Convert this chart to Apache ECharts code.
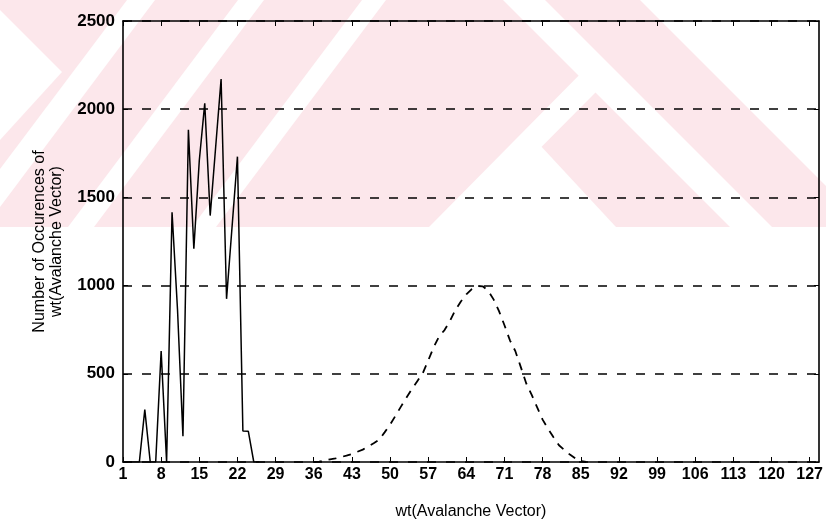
<!DOCTYPE html>
<html>
<head>
<meta charset="utf-8">
<script src="https://cdn.jsdelivr.net/npm/echarts@6/dist/echarts.min.js"></script>
<style>
  html, body { margin: 0; padding: 0; background: #ffffff; }
  #chart { width: 826px; height: 528px; }
</style>
</head>
<body>
<div id="chart"></div>
<script>
// Tick positions along the weight axis and the count axis
const xTicks = [1, 8, 15, 22, 29, 36, 43, 50, 57, 64, 71, 78, 85, 92, 99, 106, 113, 120, 127];
const yTicks = [0, 500, 1000, 1500, 2000, 2500];

// Solid curve: occurrences per avalanche-vector weight
const solidWeights = [1, 2, 3, 4, 5, 6, 7, 8, 9, 10, 11, 12, 13, 14, 15, 16, 17, 18, 19, 20, 21, 22, 23, 24, 25, 26];
const solidCounts  = [0, 0, 0, 0, 297, 0, 0, 629, 0, 1416, 866, 146, 1883, 1209, 1709, 2033, 1397, 1784, 2171, 925, 1328, 1731, 176, 174, 0, 0];

// Dashed curve: occurrences per avalanche-vector weight
const dashedWeights = [36, 37, 38, 39, 40, 41, 42, 43, 44, 45, 46, 47, 48, 49, 50, 51, 52, 53, 54, 55, 56, 57, 58, 59, 60,
                       61, 62, 63, 64, 65, 66, 67, 68, 69, 70, 71, 72, 73, 74, 75, 76, 77, 78, 79, 80, 81, 82, 83, 84, 85, 86];
const dashedCounts  = [0, 2, 8, 15, 20, 28, 36, 45, 58, 70, 88, 106, 126, 168, 212, 262, 314, 364, 413, 458, 503, 575, 650, 712, 748,
                       800, 862, 910, 950, 980, 998, 996, 972, 922, 855, 775, 690, 628, 538, 445, 380, 310, 240, 188, 140, 95, 68, 42, 20, 5, 0];

const xName = 'wt(Avalanche Vector)';
const yName = 'Number of Occurences of\nwt(Avalanche Vector)';

const FONT = '"Liberation Sans", Arial, Helvetica, sans-serif';
const INK = '#000000';
const PINK = '#fce7eb';

function pairs(xs, ys) {
  return xs.map((x, i) => [x, ys[i]]);
}

// Pale background emblem behind the plot: a pink band cut by white stripes
const white = { fill: '#ffffff' };
const emblem = [
  { type: 'rect', shape: { x: 0, y: 0, width: 826, height: 227 }, style: { fill: PINK } },
  { type: 'polygon', shape: { points: [[0, 10], [62, 72], [0, 140]] }, style: white },
  { type: 'polygon', shape: { points: [[127, 0], [155, 0], [0, 207], [0, 169]] }, style: white },
  { type: 'polygon', shape: { points: [[238, 0], [264, 0], [94, 227], [68, 227]] }, style: white },
  { type: 'polygon', shape: { points: [[362, 0], [386, 0], [216, 227], [192, 227]] }, style: white },
  { type: 'polygon', shape: { points: [[526, 130], [616, 227], [436, 227]] }, style: white },
  { type: 'polygon', shape: { points: [[596, 58], [765, 227], [732, 227], [596, 92], [462, 227], [429, 227]] }, style: white },
  { type: 'polygon', shape: { points: [[503, 0], [545, 0], [772, 227], [730, 227]] }, style: white },
  { type: 'polygon', shape: { points: [[640, 0], [826, 0], [826, 186]] }, style: white }
].map(el => Object.assign(el, { z: -10, silent: true }));

const chart = echarts.init(document.getElementById('chart'), null, { renderer: 'canvas' });

const tickCommon = { show: true, inside: true, length: 5, lineStyle: { color: INK, width: 1 } };

chart.setOption({
  animation: false,
  backgroundColor: 'transparent',
  graphic: { elements: emblem },
  grid: { left: 123, right: 5, top: 21, bottom: 66, containLabel: false },
  xAxis: [
    {
      type: 'value', position: 'bottom', min: 1, max: 128.7,
      name: xName, nameLocation: 'middle', nameGap: 42,
      nameTextStyle: { fontFamily: FONT, fontSize: 16, color: INK },
      axisLine: { show: true, onZero: false, lineStyle: { color: INK, width: 1.6 } },
      axisTick: Object.assign({ customValues: xTicks }, tickCommon),
      axisLabel: { customValues: xTicks, margin: 5, fontFamily: FONT, fontSize: 16, fontWeight: 'bold', color: INK },
      splitLine: { show: false }
    },
    {
      type: 'value', position: 'top', min: 1, max: 128.7,
      axisLine: { show: true, onZero: false, lineStyle: { color: INK, width: 1.6 } },
      axisTick: Object.assign({ customValues: xTicks }, tickCommon),
      axisLabel: { show: false },
      splitLine: { show: false }
    }
  ],
  yAxis: [
    {
      type: 'value', position: 'left', min: 0, max: 2500, interval: 500,
      name: yName, nameLocation: 'middle', nameGap: 58, nameRotate: 90,
      nameTextStyle: { fontFamily: FONT, fontSize: 16, color: INK, lineHeight: 17, align: 'center' },
      axisLine: { show: true, onZero: false, lineStyle: { color: INK, width: 1.6 } },
      axisTick: Object.assign({ customValues: yTicks }, tickCommon),
      axisLabel: {
        margin: 8, fontFamily: FONT, fontSize: 17, fontWeight: 'bold', color: INK,
        formatter: v => String(v)
      },
      splitLine: { show: true, lineStyle: { color: INK, width: 1.5, type: [9, 10] } }
    },
    {
      type: 'value', position: 'right', min: 0, max: 2500, interval: 500,
      axisLine: { show: true, onZero: false, lineStyle: { color: INK, width: 1.6 } },
      axisTick: Object.assign({ customValues: yTicks }, tickCommon),
      axisLabel: { show: false },
      splitLine: { show: false }
    }
  ],
  series: [
    {
      type: 'line', xAxisIndex: 0, yAxisIndex: 0,
      data: pairs(solidWeights, solidCounts),
      showSymbol: false, symbol: 'none',
      lineStyle: { color: INK, width: 1.5, type: 'solid' },
      z: 3
    },
    {
      type: 'line', xAxisIndex: 0, yAxisIndex: 0,
      data: pairs(dashedWeights, dashedCounts),
      showSymbol: false, symbol: 'none',
      lineStyle: { color: INK, width: 1.8, type: [8, 7] },
      z: 3
    }
  ]
});
</script>
</body>
</html>
